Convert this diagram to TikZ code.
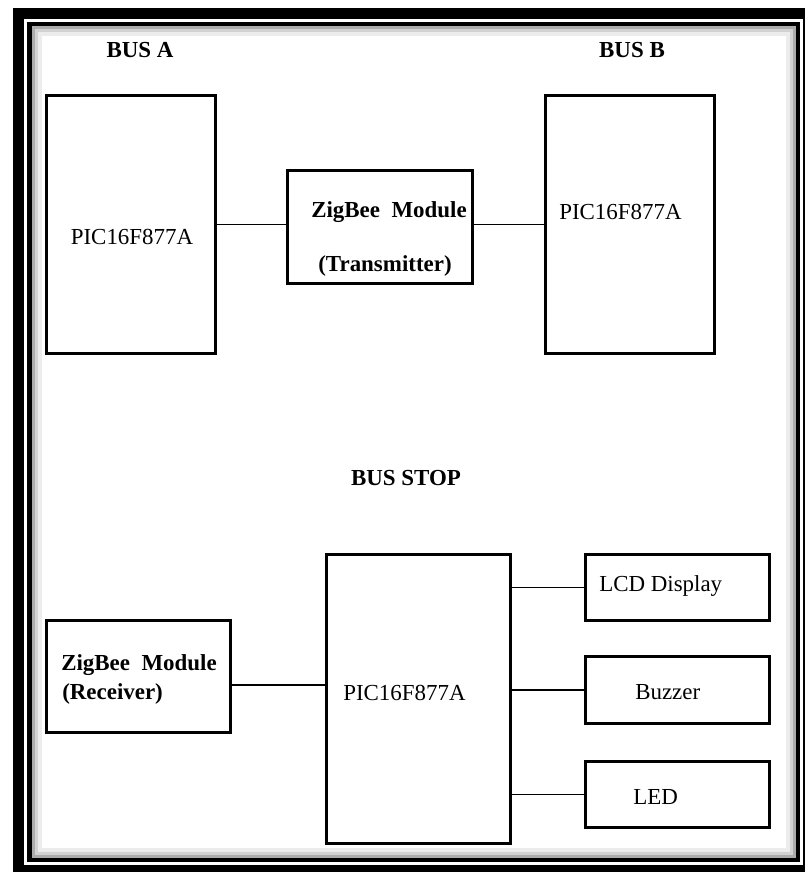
\documentclass[tikz,border=0pt]{standalone}
\usepackage{fontspec}
\setmainfont{Liberation Serif}
\usetikzlibrary{positioning}

\tikzset{
  blk/.style 2 args={draw, line width=2.4pt, anchor=north west, inner sep=0pt,
    minimum width=#1*0.75pt, minimum height=#2*0.75pt},
  txt/.style={inner sep=0pt, font=\fontsize{17.2}{20}\selectfont},
  btxt/.style={txt, font=\fontsize{17.2}{20}\selectfont\bfseries},
  wire/.style={line width=1.1pt}
}

\begin{document}
\begin{tikzpicture}[x=0.75pt,y=-0.75pt]
    \useasboundingbox (0,0) rectangle (805,872);
    \clip (0,0) rectangle (805,872);

    % frame
    \draw[line width=8.3pt] (18.5,13.5) rectangle (808.5,870.5);
    \draw[line width=3.4pt] (29.5,24) rectangle (798,859.5);
    \draw[gray!65,line width=3pt] (33.5,28) rectangle (794,855.5);
    \draw[gray!35,line width=3pt] (36.5,31) rectangle (791,852.5);
    \draw[gray!15,line width=3pt] (39.5,34) rectangle (788,849.5);

    % buses
    \node[btxt] (busA) at (140,50) {BUS A};
    \node[btxt] (busB) at (632,50) {BUS B};

    \node[blk={169}{258}] (picA) at (45,94) {};
    \node[blk={185}{113}] (zigT) at (286,169) {};
    \node[blk={169}{258}] (picB) at (544,94) {};

    \node[txt] (picAtxt) at (132,237) {PIC16F877A};
    \node[btxt] (zigTtop) at (389,212) {ZigBee\ \ Module};
    \node[btxt] (zigTbot) at (385,266) {(Transmitter)};
    \node[txt,anchor=west] (picBtxt) at (559,212) {PIC16F877A};

    \draw[wire] (picA.east) -- (picA.east -| zigT.west);
    \draw[wire] (zigT.east |- picA.east) -- (picB.west |- picA.east);

    % bus stop
    \node[btxt] (stop) at (406,478) {BUS STOP};

    \node[blk={184}{112}] (zigR) at (45,619) {};
    \node[blk={184}{289}] (picS) at (325,553) {};
    \node[blk={184}{66}] (lcd) at (584,553) {};
    \node[blk={184}{67}] (buzz) at (584,655) {};
    \node[blk={184}{66}] (led) at (584,760) {};

    \node[btxt,anchor=west] (zigRtop) at (61,665) {ZigBee\ \ Module};
    \node[btxt,anchor=west] (zigRbot) at (62,694) {(Receiver)};
    \node[txt,anchor=west] (picStxt) at (343,693) {PIC16F877A};
    \node[txt,anchor=west] (lcdtxt) at (599,586) {LCD Display};
    \node[txt,anchor=west] (buzztxt) at (635,692) {Buzzer};
    \node[txt,anchor=west] (ledtxt) at (633,797) {LED};

    \draw[wire] (zigR.-5.6) -- (zigR.-5.6 -| picS.west);
    \draw[wire] (lcd.west -| picS.east) -- (lcd.west);
    \draw[wire] (buzz.west -| picS.east) -- (buzz.west);
    \draw[wire] (led.west -| picS.east) -- (led.west);
\end{tikzpicture}
\end{document}
